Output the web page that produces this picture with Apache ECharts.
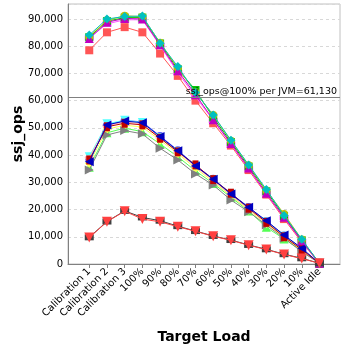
<!DOCTYPE html>
<html><head><meta charset="utf-8">
<script src="https://cdn.jsdelivr.net/npm/echarts@6/dist/echarts.min.js"></script>
<style>html,body{margin:0;padding:0;background:#fff}#c{width:348px;height:348px}</style>
</head><body><div id="c"></div>
<script>
const categories = ["Calibration 1","Calibration 2","Calibration 3","100%","90%","80%","70%","60%","50%","40%","30%","20%","10%","Active Idle"];
const yTicks = [0,10000,20000,30000,40000,50000,60000,70000,80000,90000];
const perJvmValue = 61130;

// upper group
const s0  = [78500,85100,87000,85100,77300,69100,60000,51700,43500,34500,25500,16500,8000,250];
const s4  = [83000,88200,89700,89700,80200,70300,61500,52700,44000,35000,25800,17000,8300,250];
const s10 = [83300,89200,90500,90500,81000,71500,63900,53800,44800,35800,26700,17600,8700,250];
const s11 = [83500,89500,91200,90800,81300,72000,63000,54700,45300,36300,27000,18400,9000,250];
const s12 = [82800,88800,90200,90000,80500,71000,62200,53000,44300,35300,26000,17200,8500,250];
const s13 = [84100,90000,90900,91100,81100,72500,63000,54700,45500,36400,27400,17800,9100,250];
// middle group
const s1 = [38500,51000,52700,52200,47000,41800,36200,31300,25900,20900,15700,10500,5600,250];
const s2 = [35500,48200,49900,48600,44100,39400,34200,29600,24500,19500,13500,9200,4900,250];
const s3 = [37000,49500,51000,50300,45500,40500,35200,30200,25000,19800,14800,9800,5100,250];
const s5 = [39400,51500,52800,52000,46500,41300,36100,31000,25600,20400,15400,10200,5400,250];
const s6 = [39000,50800,52200,51500,46300,41000,35800,30700,25300,20200,15100,10100,5300,250];
const s7 = [34500,47400,49000,47800,42500,38200,33100,29000,23500,19200,14300,9500,4500,250];
const s8 = [38200,50400,51700,51100,46200,41200,36400,31000,26000,20500,15300,10000,5300,250];
const s9 = [37600,51100,52500,51900,46800,41600,36000,31100,25700,20800,15900,10650,5800,250];
// lower group
const s14 = [9800,15600,19500,17100,15900,13900,12100,10300,8800,7000,5400,3600,2100,250];
const s15 = [9700,15500,19400,16500,15500,13700,12000,10200,8700,6900,5300,3500,2000,250];

const seriesDefs = [
  {d:s0,  c:'#ff5555', sym:'rect', size:8, rot:0},
  {d:s1,  c:'#5555ff', sym:'circle', size:8, rot:0},
  {d:s2,  c:'#55ff55', sym:'triangle', size:9, rot:0},
  {d:s3,  c:'#ffff55', sym:'diamond', size:9, rot:0},
  {d:s4,  c:'#ff55ff', sym:'rect', size:[9,5], rot:0},
  {d:s5,  c:'#55ffff', sym:'triangle', size:9, rot:180},
  {d:s6,  c:'#ffafaf', sym:'circle', size:[9,5], rot:0},
  {d:s7,  c:'#808080', sym:'triangle', size:9, rot:-90},
  {d:s8,  c:'#c00000', sym:'rect', size:[6,9], rot:0},
  {d:s9,  c:'#0000c0', sym:'triangle', size:9, rot:90},
  {d:s10, c:'#00c000', sym:'rect', size:8, rot:0},
  {d:s11, c:'#c0c000', sym:'circle', size:8, rot:0},
  {d:s12, c:'#c000c0', sym:'triangle', size:9, rot:0},
  {d:s13, c:'#00c0c0', sym:'diamond', size:9, rot:0},
  {d:s14, c:'#404040', sym:'rect', size:[9,6], rot:0},
  {d:s15, c:'#ff4040', sym:'triangle', size:10, rot:180}
];

const idx = categories.map((_, i) => i);
const series = seriesDefs.map((s, k) => ({
  type:'line',
  data: s.d.map((v, i) => [i, v]),
  symbol: s.sym,
  symbolSize: s.size,
  symbolRotate: s.rot,
  showAllSymbol: true,
  animation:false,
  itemStyle:{color:s.c, borderWidth:0},
  lineStyle:{color:s.c, width:1},
  emphasis:{disabled:true},
  z: 2 + k*0.01
}));
series.push({
  type:'line', data:[], silent:true, animation:false,
  markLine:{
    silent:true, symbol:['none','none'], animation:false,
    lineStyle:{color:'#808080', width:1, type:'solid'},
    label:{show:true, position:'insideEndTop', formatter:'ssj_ops@100% per JVM=61,130', color:'#000', fontFamily:'DejaVu Sans', fontSize:9.5, distance:[3,1]},
    data:[{yAxis: perJvmValue}]
  }
});

const chart = echarts.init(document.getElementById('c'), null, {renderer:'canvas'});
chart.setOption({
  backgroundColor:'#fff',
  animation:false,
  grid:{left:68, right:8, top:4, bottom:84, show:true, borderColor:'#c0c0c0', borderWidth:1, backgroundColor:'#fff', containLabel:false, outerBoundsMode:'none'},
  xAxis:{
    type:'value', min:-1.2, max:14.16,
    name:'Target Load', nameLocation:'middle', nameGap:66, nameMoveOverlap:false,
    nameTextStyle:{fontFamily:'DejaVu Sans', fontWeight:'bold', fontSize:14, color:'#000'},
    axisLine:{show:true, onZero:false, lineStyle:{color:'#808080'}},
    axisTick:{show:true, customValues:idx, length:4, lineStyle:{color:'#808080'}},
    axisLabel:{customValues:idx, rotate:45, fontFamily:'DejaVu Sans', fontSize:10, color:'#000', margin:6,
      formatter: v => categories[Math.round(v)] || ''},
    splitLine:{show:false}
  },
  yAxis:{
    type:'value', min:0, max:95500, interval:10000,
    name:'ssj_ops', nameLocation:'middle', nameGap:43, nameMoveOverlap:false,
    nameTextStyle:{fontFamily:'DejaVu Sans', fontWeight:'bold', fontSize:14, color:'#000'},
    axisLine:{show:true, onZero:false, lineStyle:{color:'#808080'}},
    axisTick:{show:false},
    axisLabel:{fontFamily:'DejaVu Sans', fontSize:10, color:'#000', margin:5, showMaxLabel:false,
      formatter: v => yTicks.includes(v) ? v.toLocaleString('en-US') : ''},
    splitLine:{show:true, lineStyle:{color:'#d8d8d8', type:[3,3], width:1}}
  },
  series: series
});
</script></body></html>
